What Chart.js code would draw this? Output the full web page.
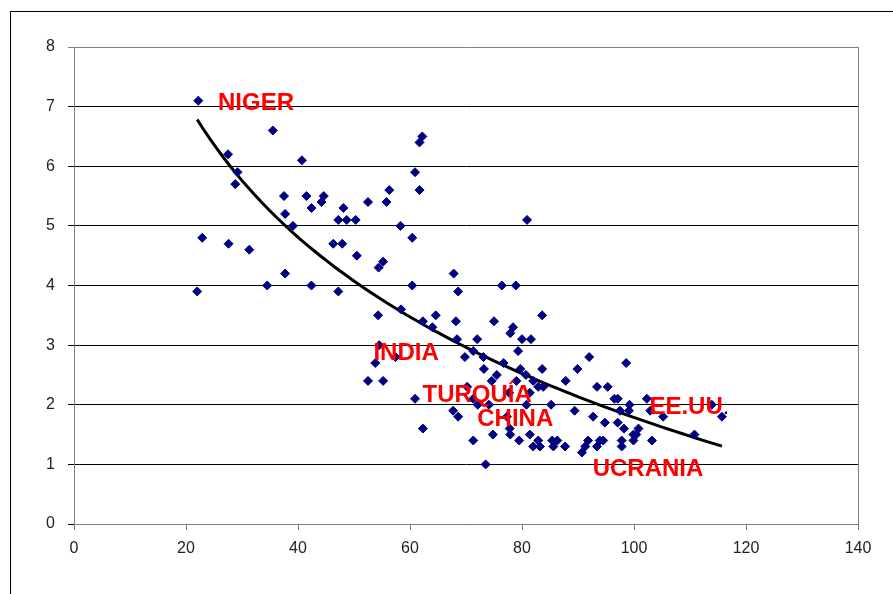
<!DOCTYPE html>
<html>
<head>
<meta charset="utf-8">
<script src="https://cdn.jsdelivr.net/npm/chart.js@4.4.1/dist/chart.umd.min.js"></script>
<style>
html, body { margin: 0; padding: 0; background: #fff; overflow: hidden; }
#frame { position: absolute; left: 10px; top: 11px; width: 900px; height: 600px; border-left: 1px solid #000; border-top: 1px solid #000; }
#wrap { position: absolute; left: 0; top: 0; width: 893px; height: 594px; }
</style>
</head>
<body>
<div id="frame"></div>
<div id="wrap"><canvas id="myChart"></canvas></div>
<script>
// scatter values
const pointsX = [
  22.2, 22, 22.9, 27.5, 29.2, 28.8, 27.6, 31.3, 35.5, 34.5, 37.5, 37.7, 39.1, 37.7, 40.7, 41.5, 42.4, 44.2, 44.6, 42.4,
  47.2, 46.3, 47.9, 47.2, 48.1, 48.7, 50.3, 50.5, 52.5, 54.3, 54.4, 55.2, 55.8, 56.3, 58.3, 58.4, 60.4, 60.4, 60.9, 61.7,
  61.7, 62.2, 62.3, 64, 64.6, 67.8, 68.6, 68.2, 68.4, 72, 71.3, 75, 76.4, 78.9, 78.4, 77.9, 80, 81.6, 83.6, 80.9,
  79.3, 76.7, 73.1, 69.8, 53.8, 57.4, 54.5,
  52.5, 55.2, 60.9, 62.3, 67.7, 68.6, 73.2, 74.6, 75.5, 70.2, 71.3, 72.1, 71.3, 73.5, 74.8, 74.1, 79.7, 80.7, 83.6, 82,
  82.9, 79, 87.8, 89.9, 92, 93.4, 85.2, 89.4, 92.7, 80.8, 77.3, 77.8, 77.9, 79.5, 81.4, 82, 83.2, 82.9, 85.4, 85.6,
  86.3, 87.7, 90.7, 91.3, 91.8, 93.4, 81.4, 83.8, 77.7,
  98.6, 95.3, 96.5, 97.1, 99.2, 102.3, 97.5, 99.1, 94.8, 97.1, 98.2, 105.2, 115.7, 113.9, 110.8, 103.2, 99.9, 97.8, 97.8, 94.5,
  100.4, 100.8, 102.9, 93.9, 99.9
];
const pointsY = [
  7.1, 3.9, 4.8, 6.2, 5.9, 5.7, 4.7, 4.6, 6.6, 4.0, 5.5, 5.2, 5.0, 4.2, 6.1, 5.5, 5.3, 5.4, 5.5, 4.0,
  3.9, 4.7, 4.7, 5.1, 5.3, 5.1, 5.1, 4.5, 5.4, 3.5, 4.3, 4.4, 5.4, 5.6, 5.0, 3.6, 4.8, 4.0, 5.9, 5.6,
  6.4, 6.5, 3.4, 3.3, 3.5, 4.2, 3.9, 3.4, 3.1, 3.1, 2.9, 3.4, 4.0, 4.0, 3.3, 3.2, 3.1, 3.1, 3.5, 5.1,
  2.9, 2.7, 2.8, 2.8, 2.7, 2.8, 3.0,
  2.4, 2.4, 2.1, 1.6, 1.9, 1.8, 2.6, 2.4, 2.5, 2.3, 2.1, 2.0, 1.4, 1.0, 1.5, 2.0, 2.6, 2.5, 2.6, 2.4,
  2.3, 2.4, 2.4, 2.6, 2.8, 2.3, 2.0, 1.9, 1.8, 2.0, 1.8, 1.6, 1.5, 1.4, 1.5, 1.3, 1.3, 1.4, 1.4, 1.3,
  1.4, 1.3, 1.2, 1.3, 1.4, 1.3, 2.2, 2.3, 2.2,
  2.7, 2.3, 2.1, 2.1, 2.0, 2.1, 1.9, 1.9, 1.7, 1.7, 1.6, 1.8, 1.8, 2.0, 1.5, 1.4, 1.4, 1.4, 1.3, 1.4,
  1.5, 1.6, 1.9, 1.4, 1.5
];

// country labels (data units)
const labelNames = ['NIGER', 'INDIA', 'TURQUÍA', 'CHINA', 'UCRANIA', 'EE.UU'];
const labelX = [32.5, 59.3, 72, 78.8, 102.5, 109.3];
const labelY = [7.1, 2.92, 2.2, 1.8, 0.97, 2.01];

const xTicks = [0, 20, 40, 60, 80, 100, 120, 140];
const yTicks = [0, 1, 2, 3, 4, 5, 6, 7, 8];

const scatterData = pointsX.map((x, i) => ({ x: x, y: pointsY[i] }));

// logarithmic trend line fitted to the points (least squares on ln x)
function logTrend(xs, ys) {
    const n = xs.length;
    let sx = 0, sy = 0, sxx = 0, sxy = 0;
    for (let i = 0; i < n; i++) {
        const lx = Math.log(xs[i]);
        sx += lx; sy += ys[i]; sxx += lx * lx; sxy += lx * ys[i];
    }
    const b = (n * sxy - sx * sy) / (n * sxx - sx * sx);
    const a = (sy - b * sx) / n;
    const xMin = Math.min(...xs), xMax = Math.max(...xs);
    const out = [];
    for (let k = 0; k <= 80; k++) {
        const x = xMin + (xMax - xMin) * k / 80;
        out.push({ x: x, y: a + b * Math.log(x) });
    }
    return out;
}
const trendData = logTrend(pointsX, pointsY);

const tickFont = { family: "'Liberation Sans', Arial, sans-serif", size: 16 };
const labelFont = "bold 24px 'Liberation Sans', Arial, sans-serif";

const labelPlugin = {
    id: 'countryLabels',
    afterDatasetsDraw(chart) {
        const ctx = chart.ctx;
        const xs = chart.scales.x, ys = chart.scales.y;
        const area = chart.chartArea;
        ctx.save();
        // right edge of the plot area
        ctx.strokeStyle = '#808080';
        ctx.lineWidth = 1;
        ctx.beginPath();
        ctx.moveTo(Math.round(area.right) + 0.5, area.top);
        ctx.lineTo(Math.round(area.right) + 0.5, area.bottom);
        ctx.stroke();

        ctx.font = labelFont;
        ctx.textAlign = 'center';
        ctx.textBaseline = 'middle';
        labelNames.forEach((name, i) => {
            const px = xs.getPixelForValue(labelX[i]);
            const py = ys.getPixelForValue(labelY[i]) + 3;
            ctx.fillStyle = '#ff0000';
            ctx.fillText(name, px, py);
            if (name === 'EE.UU') {
                const w = ctx.measureText(name).width;
                ctx.fillStyle = '#000';
                ctx.font = "bold 16px 'Liberation Sans', Arial, sans-serif";
                ctx.textAlign = 'left';
                ctx.fillText('.', px + w / 2 + 1, py + 2);
                ctx.font = labelFont;
                ctx.textAlign = 'center';
            }
        });
        ctx.restore();
    }
};

const ctx = document.getElementById('myChart').getContext('2d');
const chart = new Chart(ctx, {
    type: 'scatter',
    data: {
        datasets: [{
            label: 'Países',
            data: scatterData,
            pointStyle: 'rectRot',
            pointRadius: 4.5,
            backgroundColor: '#000080',
            borderColor: '#000080',
            borderWidth: 1
        }, {
            type: 'line',
            label: 'Tendencia',
            data: trendData,
            borderColor: '#000',
            borderWidth: 3,
            pointRadius: 0,
            fill: false,
            tension: 0
        }]
    },
    options: {
        responsive: true,
        maintainAspectRatio: false,
        animation: false,
        layout: { padding: { left: 0, right: 35, top: 47, bottom: 0 } },
        plugins: {
            legend: { display: false },
            tooltip: { enabled: false }
        },
        scales: {
            x: {
                type: 'linear',
                min: 0,
                max: 140,
                afterBuildTicks: s => { s.ticks = xTicks.map(v => ({ value: v })); },
                ticks: { font: tickFont, color: '#222', padding: 9, maxRotation: 0 },
                grid: { drawOnChartArea: false, tickLength: 6, color: '#808080' },
                border: { color: '#808080' },
                afterFit: s => { s.height = 70; }
            },
            y: {
                min: 0,
                max: 8,
                afterBuildTicks: s => { s.ticks = yTicks.map(v => ({ value: v })); },
                ticks: { font: tickFont, color: '#222', padding: 13 },
                grid: {
                    tickLength: 6,
                    color: c => (c.tick && c.tick.value === 8) ? '#808080' : '#000'
                },
                border: { color: '#808080' },
                afterFit: s => { s.width = 74; }
            }
        }
    },
    plugins: [labelPlugin]
});
</script>
</body>
</html>
